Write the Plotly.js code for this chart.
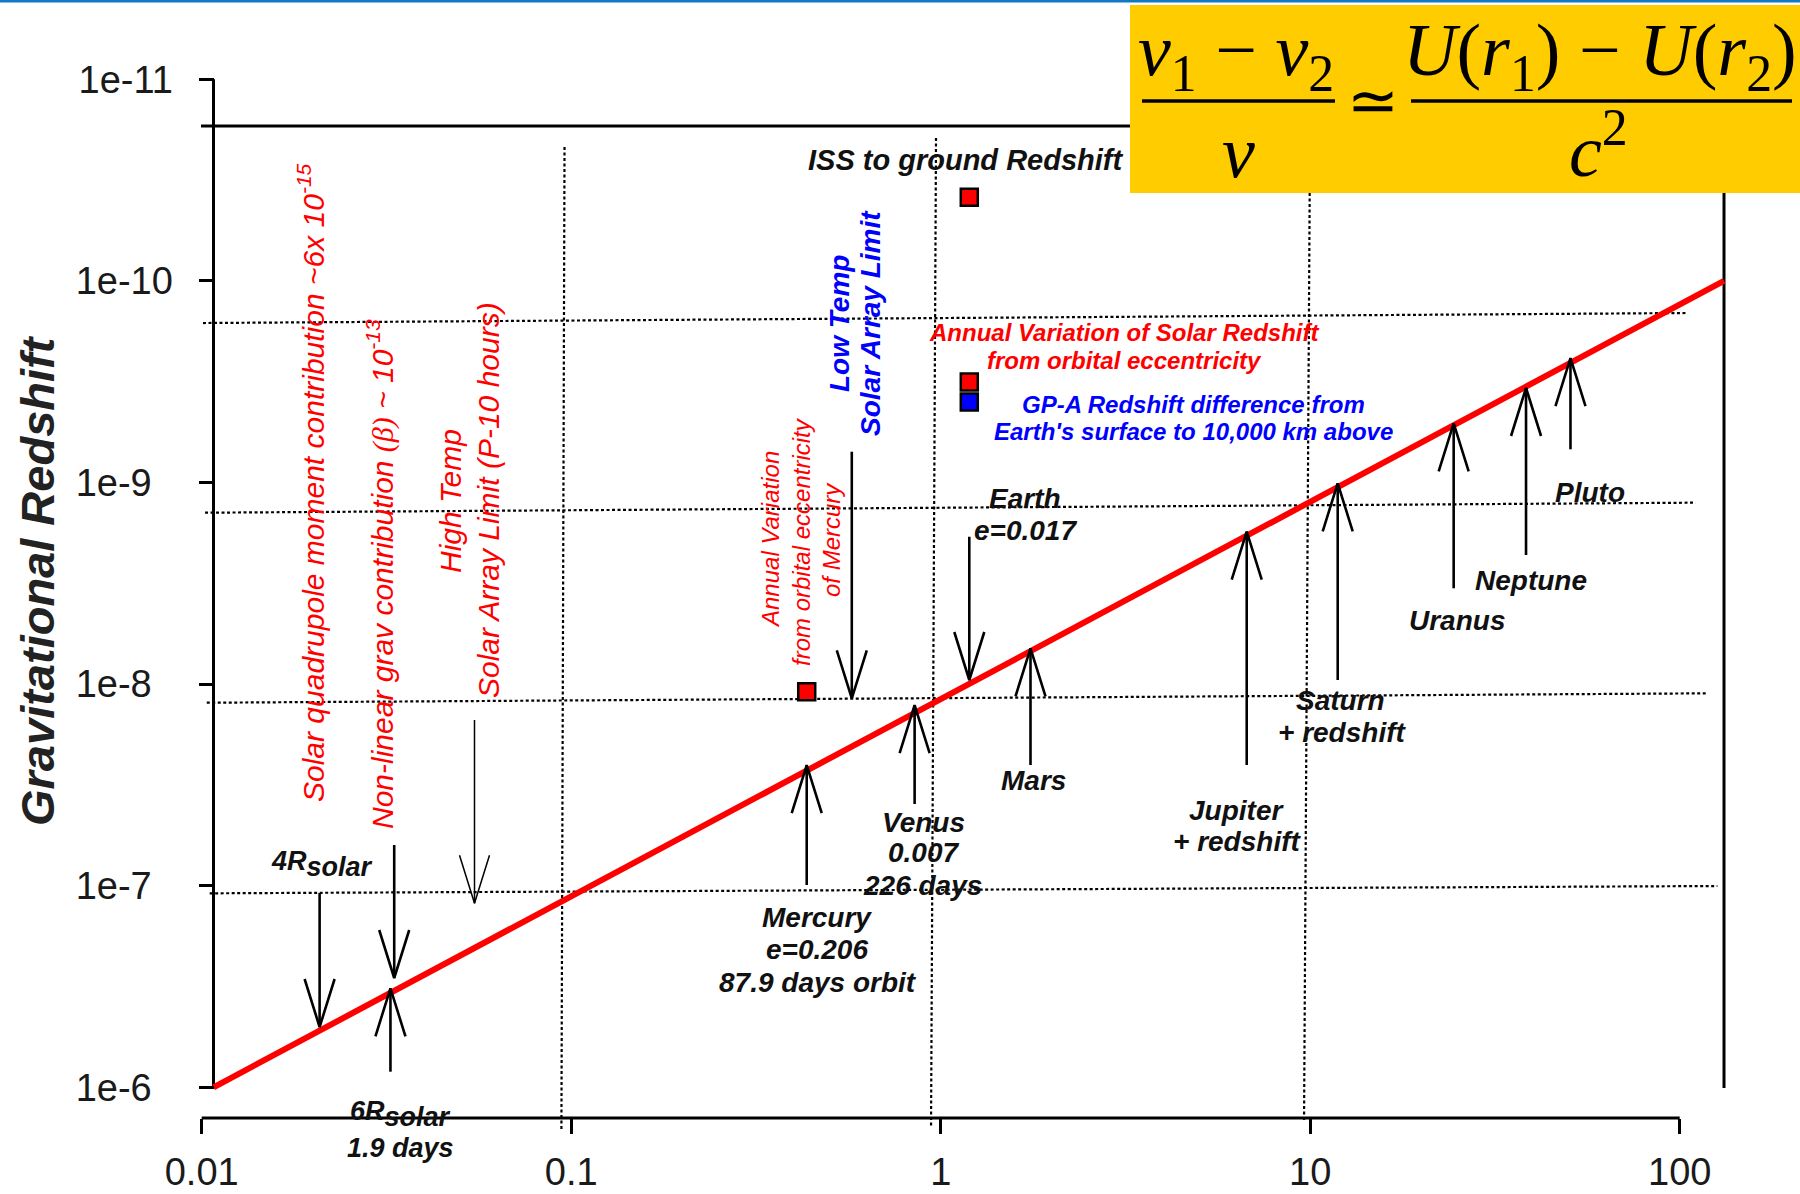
<!DOCTYPE html>
<html>
<head>
<meta charset="utf-8">
<script src="https://cdn.plot.ly/plotly-3.0.1.min.js"></script>
<style>
  html, body { margin: 0; padding: 0; background: #fff; }
  #chart { width: 1800px; height: 1194px; }
</style>
</head>
<body>
<div id="chart"></div>
<script>
// ---- axes -------------------------------------------------------------
const xTickVals = [0.01, 0.1, 1, 10, 100];
const xTickText = ['0.01', '0.1', '1', '10', '100'];
const yTickVals = [1e-11, 1e-10, 1e-9, 1e-8, 1e-7, 1e-6];
const yTickText = ['1e-11', '1e-10', '1e-9', '1e-8', '1e-7', '1e-6'];

// ---- solar potential U/c^2 (red line) ------------------------------------
const solarLineX = [0.010763, 131.8];
const solarLineY = [1e-6, 1e-10];

// ---- redshift points ------------------------------------------------------
const redPointNames = ['ISS to ground', 'Mercury annual variation', 'Solar annual variation'];
const redPointX = [1.195, 0.4339, 1.195];
const redPointY = [3.849e-11, 1.091e-8, 3.173e-10];
const bluePointNames = ['GP-A'];
const bluePointX = [1.195];
const bluePointY = [3.987e-10];

// ---- pointer arrows (tip -> target, tail -> label side) -------------------
const arrowNames = ['4R solar', 'Non-linear grav', '6R solar', 'High Temp', 'Mercury', 'Low Temp',
                    'Venus', 'Earth', 'Mars', 'Jupiter', 'Saturn', 'Uranus', 'Neptune', 'Pluto'];
const arrowX     = [0.02085, 0.03319, 0.03242, 0.05474, 0.4339, 0.5746,
                    0.8500, 1.195, 1.750, 6.733, 11.87, 24.45, 38.38, 50.63];
const arrowTipY  = [5.022e-7, 2.870e-7, 3.228e-7, 1.223e-7, 2.520e-8, 1.176e-8,
                    1.270e-8, 9.543e-9, 6.645e-9, 1.754e-9, 1.009e-9, 5.086e-10, 3.398e-10, 2.413e-10];
const arrowTailY = [1.087e-7, 6.284e-8, 8.367e-7, 1.507e-8, 9.920e-8, 7.036e-10,
                    3.934e-8, 1.858e-9, 2.520e-8, 2.520e-8, 9.543e-9, 3.348e-9, 2.289e-9, 6.846e-10];
const thinArrows = ['High Temp'];

// ---- dotted reference grid (segments) ------------------------------------
const gridX0 = [0.01008, 0.01021, 0.01032, 0.01051, 0.09592, 0.9712, 9.989];
const gridY0 = [1.618e-10, 1.412e-9, 1.237e-8, 1.091e-7, 2.167e-11, 1.955e-11, 1.955e-11];
const gridX1 = [104.0, 110.4, 118.6, 126.5, 0.09408, 0.9415, 9.623];
const gridY1 = [1.443e-10, 1.259e-9, 1.111e-8, 1.0035e-7, 1.628e-6, 1.591e-6, 1.486e-6];

// ---- solid frame: y axis, x axis, top rule, right rule --------------------
const frameX0 = [0.010763, 0.01, 0.009956, 131.8];
const frameY0 = [1e-11, 1.4198e-6, 1.7046e-11, 1.7046e-11];
const frameX1 = [0.010763, 100, 131.8, 131.8];
const frameY1 = [1e-6, 1.4198e-6, 1.7046e-11, 1.008e-6];

// ---- page geometry --------------------------------------------------------
const FIG_W = 1800, FIG_H = 1194;
const L = 180, R = 1790, T = 40, B = 1140;
const W = R - L, H = B - T;
const xRange = [-2.058728, 2.298511];
const yRange = [-5.738591, -11.19494];          // reversed: small redshift at top
const xPerDecade = W / (xRange[1] - xRange[0]);
const yPerDecade = H / (yRange[0] - yRange[1]);
const px = v => (v - L) / W;                     // page pixel -> paper
const py = v => (B - v) / H;

const SANS = 'Liberation Sans, Arial, sans-serif';
const SERIF = 'Liberation Serif, Times New Roman, serif';

function segments(x0, y0, x1, y1, line) {
  const x = [], y = [];
  x0.forEach((_, i) => { x.push(x0[i], x1[i], null); y.push(y0[i], y1[i], null); });
  return { type: 'scatter', mode: 'lines', x, y, line, hoverinfo: 'skip', connectgaps: false };
}

const HEAD_LEN = 48, HEAD_HALF = 15;
function arrows(keep, width) {
  const x = [], y = [];
  arrowNames.forEach((n, i) => {
    if (!keep(n)) return;
    const xt = arrowX[i], yt = arrowTipY[i], ya = arrowTailY[i];
    const up = yt < ya;                             // reversed axis: smaller value is higher
    const fy = Math.pow(10, (up ? 1 : -1) * HEAD_LEN / yPerDecade);
    const fx = Math.pow(10, HEAD_HALF / xPerDecade);
    x.push(xt, xt, null, xt / fx, xt, xt * fx, null);
    y.push(ya, yt, null, yt * fy, yt, yt * fy, null);
  });
  return { type: 'scatter', mode: 'lines', x, y, hoverinfo: 'skip', connectgaps: false,
           line: { color: '#000', width } };
}

const traces = [
  segments(gridX0, gridY0, gridX1, gridY1, { color: '#000', width: 2.2, dash: '3px,2.5px' }),
  segments(frameX0, frameY0, frameX1, frameY1, { color: '#000', width: 3 }),
  { type: 'scatter', mode: 'lines', x: solarLineX, y: solarLineY, hoverinfo: 'skip',
    line: { color: '#ff0000', width: 6 } },
  arrows(n => !thinArrows.includes(n), 2.6),
  arrows(n => thinArrows.includes(n), 1.5),
  { type: 'scatter', mode: 'markers', x: redPointX, y: redPointY, text: redPointNames, hoverinfo: 'skip',
    marker: { symbol: 'square', size: 17, color: '#ff0000', line: { color: '#000', width: 2.5 } } },
  { type: 'scatter', mode: 'markers', x: bluePointX, y: bluePointY, text: bluePointNames, hoverinfo: 'skip',
    marker: { symbol: 'square', size: 17, color: '#0000ff', line: { color: '#000', width: 2.5 } } }
];

// ---- text ----------------------------------------------------------------
function label(text, x, y, font, angle) {
  return { xref: 'paper', yref: 'paper', x: px(x), y: py(y), text, showarrow: false,
           xanchor: 'center', yanchor: 'middle', textangle: angle || 0, font };
}
const blackBI = size => ({ family: SANS, size, color: '#111', weight: 'bold', style: 'italic' });
const redTall = { family: SANS, size: 30, color: '#ff0000', style: 'italic' };
const redSmall = { family: SANS, size: 24, color: '#ff0000', style: 'italic' };
const redBI = { family: SANS, size: 24, color: '#ff0000', weight: 'bold', style: 'italic' };
const blueBI = size => ({ family: SANS, size, color: '#0000ff', weight: 'bold', style: 'italic' });
const mathFont = size => ({ family: SERIF, size, color: '#000' });
const solarSub = '<sub><span style="font-size:143%">solar</span></sub>';

const annotations = [
  label('Gravitational Redshift', 37, 581, { family: SANS, size: 47, color: '#222', weight: 'bold', style: 'italic' }, -90),

  label('ISS to ground Redshift', 965, 160, blackBI(29)),
  label('Earth', 1025, 498, blackBI(28)),
  label('e=0.017', 1025, 530, blackBI(28)),
  label('Mars', 1033, 780, blackBI(28)),
  label('Venus', 923, 822, blackBI(28)),
  label('0.007', 923, 853, blackBI(28)),
  label('226 days', 922, 885, blackBI(28)),
  label('Mercury', 817, 917, blackBI(28)),
  label('e=0.206', 817, 949, blackBI(28)),
  label('87.9 days orbit', 818, 982, blackBI(28)),
  label('Jupiter', 1236, 810, blackBI(28)),
  label('+ redshift', 1237, 841, blackBI(28)),
  label('Saturn', 1340, 700, blackBI(28)),
  label('+ redshift', 1342, 732, blackBI(28)),
  label('Uranus', 1457, 620, blackBI(28)),
  label('Neptune', 1531, 580, blackBI(28)),
  label('Pluto', 1590, 492, blackBI(28)),
  label('4R' + solarSub, 322, 864, blackBI(27)),
  label('6R' + solarSub, 400, 1114, blackBI(27)),
  label('1.9 days', 400, 1148, blackBI(27)),

  label('Solar quadrupole moment contribution ~6x 10<sup>-15</sup>', 311, 483, redTall, -90),
  label('Non-linear grav contribution <span style="font-family:Liberation Serif">(β)</span> ~ 10<sup>-13</sup>', 380, 574, redTall, -90),
  label('High Temp', 450, 501, redTall, -90),
  label('Solar Array Limit (P-10 hours)', 488, 500, redTall, -90),

  label('Low Temp', 839, 324, blueBI(28), -90),
  label('Solar Array Limit', 870, 323, blueBI(28), -90),

  label('Annual Variation', 770, 540, redSmall, -90),
  label('from orbital eccentricity', 801, 542, redSmall, -90),
  label('of Mercury', 831, 540, redSmall, -90),

  label('Annual Variation of Solar Redshift', 1124, 332, redBI),
  label('from orbital eccentricity', 1124, 360, redBI),
  label('GP-A Redshift difference from', 1193, 405, blueBI(24)),
  label("Earth's surface to 10,000 km above", 1193, 432, blueBI(24)),

  // redshift relation in the corner panel
  label('<i>ν</i><sub>1</sub> − <i>ν</i><sub>2</sub>', 1236, 56, mathFont(74)),
  label('<i>ν</i>', 1238, 152, mathFont(74)),
  label('≃', 1373, 101, mathFont(62)),
  label('<i>U</i>(<i>r</i><sub>1</sub>) − <i>U</i>(<i>r</i><sub>2</sub>)', 1600, 56, mathFont(74)),
  label('<i>c</i><sup>2</sup>', 1598, 146, mathFont(74))
];

const shapes = [
  { type: 'rect', xref: 'paper', yref: 'paper', x0: px(0), x1: px(FIG_W), y0: py(0), y1: py(2.5),
    fillcolor: '#1479c4', line: { width: 0 }, layer: 'above' },
  { type: 'rect', xref: 'paper', yref: 'paper', x0: px(1130), x1: px(FIG_W), y0: py(5), y1: py(193),
    fillcolor: '#ffcc00', line: { width: 0 }, layer: 'above' },
  { type: 'line', xref: 'paper', yref: 'paper', x0: px(1142), x1: px(1335), y0: py(101), y1: py(101),
    line: { color: '#000', width: 3.5 }, layer: 'above' },
  { type: 'line', xref: 'paper', yref: 'paper', x0: px(1411), x1: px(1792), y0: py(101), y1: py(101),
    line: { color: '#000', width: 3.5 }, layer: 'above' }
];

const yLabelLen = Math.max(...yTickText.map(t => t.length));
const tickFont = { family: SANS, size: 38, color: '#1a1a1a' };

const layout = {
  width: FIG_W, height: FIG_H,
  margin: { l: L, r: FIG_W - R, t: T, b: FIG_H - B, pad: 0 },
  paper_bgcolor: '#fff', plot_bgcolor: '#fff',
  showlegend: false, hovermode: false,
  xaxis: {
    type: 'log', range: xRange, anchor: 'free', position: (B - 1118) / H,
    showline: false, showgrid: false, zeroline: false,
    tickmode: 'array', tickvals: xTickVals, ticktext: xTickText,
    ticks: 'outside', ticklen: 15, tickwidth: 3, tickcolor: '#000',
    tickfont: tickFont, ticklabelstandoff: 5
  },
  yaxis: {
    type: 'log', range: yRange, anchor: 'free', position: (213.5 - L) / W,
    showline: false, showgrid: false, zeroline: false,
    tickmode: 'array', tickvals: yTickVals,
    ticktext: yTickText.map(t => t.padEnd(yLabelLen, '\u2007')),
    ticks: 'outside', ticklen: 15, tickwidth: 3, tickcolor: '#000',
    tickfont: tickFont, ticklabelstandoff: 18
  },
  annotations, shapes
};

Plotly.newPlot('chart', traces, layout, { displayModeBar: false, staticPlot: true });
</script>
</body>
</html>
